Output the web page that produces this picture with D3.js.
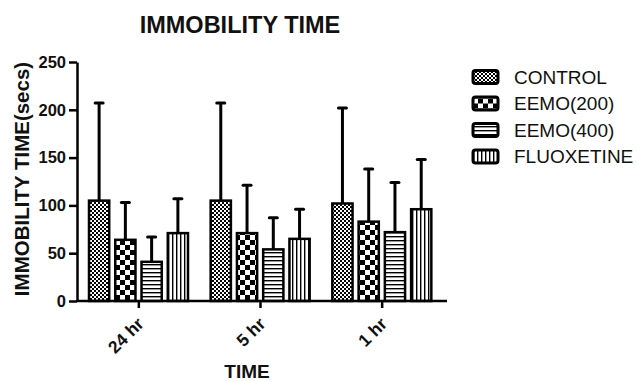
<!DOCTYPE html>
<html>
<head>
<meta charset="utf-8">
<script src="https://cdn.jsdelivr.net/npm/d3@7"></script>
<style>
  body { margin: 0; background: #fff; }
  svg { display: block; font-family: Arial, "Liberation Sans", sans-serif; }
</style>
</head>
<body>
<div id="chart"></div>
<script>
const groups = ['24 hr', '5 hr', '1 hr'];
const series = ['CONTROL', 'EEMO(200)', 'EEMO(400)', 'FLUOXETINE'];
// mean and SD end (mean + sd) per series, in order of groups
const means = {
    'CONTROL':    [105, 105, 102],
    'EEMO(200)':  [64, 71, 83],
    'EEMO(400)':  [41, 54, 72],
    'FLUOXETINE': [71, 65, 96]
};
const errTops = {
    'CONTROL':    [207, 207, 202],
    'EEMO(200)':  [103, 121, 138],
    'EEMO(400)':  [67, 87, 124],
    'FLUOXETINE': [107, 96, 148]
};
const yTicks = [0, 50, 100, 150, 200, 250];

const width = 637, height = 382;

let svg = d3.select('#chart').append('svg')
    .attr('width', width)
    .attr('height', height);

// patterns
let defs = svg.append('defs');

let p1 = defs.append('pattern').attr('id', 'pat0')
    .attr('patternUnits', 'userSpaceOnUse').attr('width', 4).attr('height', 4);
p1.append('rect').attr('width', 4).attr('height', 4).attr('fill', '#fff');
p1.append('rect').attr('width', 2).attr('height', 2).attr('fill', '#000');
p1.append('rect').attr('x', 2).attr('y', 2).attr('width', 2).attr('height', 2).attr('fill', '#000');

let p2 = defs.append('pattern').attr('id', 'pat1')
    .attr('patternUnits', 'userSpaceOnUse').attr('width', 10).attr('height', 10);
p2.append('rect').attr('width', 10).attr('height', 10).attr('fill', '#fff');
p2.append('rect').attr('width', 5).attr('height', 5).attr('fill', '#000');
p2.append('rect').attr('x', 5).attr('y', 5).attr('width', 5).attr('height', 5).attr('fill', '#000');

let p3 = defs.append('pattern').attr('id', 'pat2')
    .attr('patternUnits', 'userSpaceOnUse').attr('width', 4).attr('height', 4);
p3.append('rect').attr('width', 4).attr('height', 4).attr('fill', '#fff');
p3.append('rect').attr('y', 0).attr('width', 4).attr('height', 1.4).attr('fill', '#000');

let p4 = defs.append('pattern').attr('id', 'pat3')
    .attr('patternUnits', 'userSpaceOnUse').attr('width', 4).attr('height', 4);
p4.append('rect').attr('width', 4).attr('height', 4).attr('fill', '#fff');
p4.append('rect').attr('x', 0).attr('width', 1.4).attr('height', 4).attr('fill', '#000');

const patFor = s => 'url(#pat' + series.indexOf(s) + ')';

let yScale = d3.scaleLinear()
    .domain([0, 250])
    .range([301, 62]);

let x0 = d3.scaleBand()
    .domain(groups)
    .range([78, 443]);

let x1 = d3.scaleBand()
    .domain(series)
    .range([11, 110])
    .paddingInner(0.23);

// y axis
let yAxis = d3.axisLeft(yScale)
    .tickValues(yTicks)
    .tickSize(8)
    .tickPadding(3)
    .tickSizeOuter(0);

let yG = svg.append('g')
    .attr('transform', 'translate(77,0)')
    .call(yAxis);
yG.select('.domain').attr('stroke-width', 2.5);
yG.selectAll('.tick line').attr('stroke-width', 2.5);
yG.selectAll('.tick text')
    .attr('font-size', 16.5)
    .attr('font-weight', 'bold')
    .attr('fill', '#111');

// bars
let rows = [];
groups.forEach((g, gi) => {
    series.forEach(s => {
        rows.push({ group: g, series: s, value: means[s][gi], top: errTops[s][gi] });
    });
});

let bars = svg.append('g');

// error bars first (behind bars)
bars.selectAll('.err')
    .data(rows)
    .enter()
    .append('line')
    .attr('x1', d => x0(d.group) + x1(d.series) + x1.bandwidth() / 2)
    .attr('x2', d => x0(d.group) + x1(d.series) + x1.bandwidth() / 2)
    .attr('y1', d => yScale(d.value))
    .attr('y2', d => yScale(d.top))
    .attr('stroke', '#000')
    .attr('stroke-width', 3);

bars.selectAll('.cap')
    .data(rows)
    .enter()
    .append('line')
    .attr('x1', d => x0(d.group) + x1(d.series) + x1.bandwidth() / 2 - 4)
    .attr('x2', d => x0(d.group) + x1(d.series) + x1.bandwidth() / 2 + 4)
    .attr('y1', d => yScale(d.top))
    .attr('y2', d => yScale(d.top))
    .attr('stroke', '#000')
    .attr('stroke-width', 3)
    .attr('stroke-linecap', 'round');

bars.selectAll('.bar')
    .data(rows)
    .enter()
    .append('rect')
    .attr('x', d => x0(d.group) + x1(d.series))
    .attr('y', d => yScale(d.value))
    .attr('width', x1.bandwidth())
    .attr('height', d => yScale(0) - yScale(d.value))
    .attr('fill', d => patFor(d.series))
    .attr('stroke', '#000')
    .attr('stroke-width', 2.5);

// x axis
let xAxis = d3.axisBottom(x0)
    .tickSize(7)
    .tickSizeOuter(0);

let xG = svg.append('g')
    .attr('transform', 'translate(0,301)')
    .call(xAxis);
xG.select('.domain')
    .attr('d', 'M77,0H447')
    .attr('stroke-width', 2.5);
xG.selectAll('.tick line').attr('stroke-width', 2.5);
xG.selectAll('.tick text')
    .attr('font-size', 17.5)
    .attr('font-weight', 'bold')
    .attr('fill', '#111')
    .attr('text-anchor', 'end')
    .attr('y', 0)
    .attr('dy', 0)
    .attr('transform', 'translate(6,24) rotate(-45)');

// titles
svg.append('text')
    .attr('x', 240)
    .attr('y', 33)
    .attr('text-anchor', 'middle')
    .attr('font-size', 23.5)
    .attr('font-weight', 'bold')
    .attr('fill', '#111')
    .text('IMMOBILITY TIME');

svg.append('text')
    .attr('transform', 'translate(29,179) rotate(-90)')
    .attr('text-anchor', 'middle')
    .attr('font-size', 20.5)
    .attr('font-weight', 'bold')
    .attr('fill', '#111')
    .text('IMMOBILITY TIME(secs)');

svg.append('text')
    .attr('x', 247)
    .attr('y', 378)
    .attr('text-anchor', 'middle')
    .attr('font-size', 19)
    .attr('font-weight', 'bold')
    .attr('fill', '#111')
    .text('TIME');

// legend
let legend = svg.append('g')
    .selectAll('g')
    .data(series)
    .enter()
    .append('g')
    .attr('transform', (d, i) => 'translate(473,' + (77 + i * 26.5) + ')');

legend.append('rect')
    .attr('x', 0)
    .attr('y', -6.5)
    .attr('width', 25)
    .attr('height', 13)
    .attr('rx', 2.5)
    .attr('fill', d => patFor(d))
    .attr('stroke', '#000')
    .attr('stroke-width', 3);

legend.append('text')
    .attr('x', 41)
    .attr('y', 0)
    .attr('dy', '0.35em')
    .attr('font-size', 19)
    .attr('fill', '#111')
    .text(d => d);
</script>
</body>
</html>
